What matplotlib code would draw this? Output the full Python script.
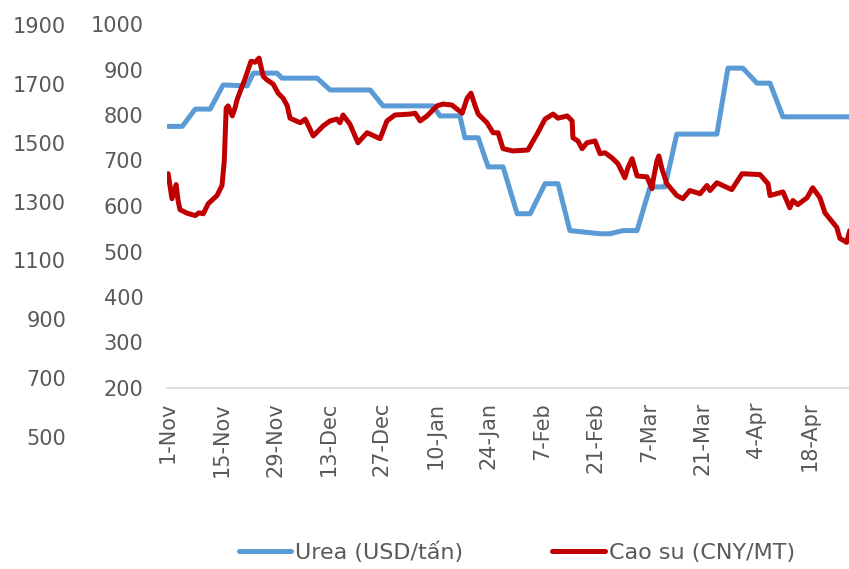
import matplotlib.pyplot as plt

# days counted from 1-Nov
tick_days = [0, 14, 28, 42, 56, 70, 84, 98, 112, 126, 140, 154, 168]
tick_labels = ['1-Nov', '15-Nov', '29-Nov', '13-Dec', '27-Dec', '10-Jan', '24-Jan',
               '7-Feb', '21-Feb', '7-Mar', '21-Mar', '4-Apr', '18-Apr']

urea_day = [0, 3.7, 7.1, 11.0, 14.4, 20.7, 22.3, 28.5, 29.8, 39.0, 42.4, 52.9, 56.3,
            69.4, 71.2, 76.4, 77.7, 81.2, 83.8, 87.7, 91.4, 94.8, 98.7, 102.1, 105.2,
            113.1, 115.7, 119.1, 122.8, 126.2, 130.1, 133.2, 143.7, 146.6, 150.5,
            154.2, 157.6, 161.0, 178.5]
urea_val = [775, 775, 813, 813, 866, 864, 892, 892, 881, 881, 855, 855, 820,
            820, 798, 798, 750, 750, 686, 686, 583, 583, 649, 649, 546,
            539, 539, 546, 546, 642, 642, 758, 758, 903, 903,
            870, 870, 796, 796]

rubber_day = [0, 1.0, 2.1, 2.6, 3.1, 5.0, 7.1, 8.1, 9.2, 10.5, 12.8, 14.1, 14.7, 15.2,
              15.7, 16.8, 17.5, 18.1, 20.2, 21.7, 22.8, 23.8, 24.9, 25.9, 27.5, 28.8,
              30.1, 31.2, 31.9, 34.6, 35.9, 38.0, 40.6, 42.4, 44.2, 45.0, 45.8, 47.6,
              49.7, 52.1, 55.5, 57.3, 59.4, 63.4, 64.7, 66.0, 67.8, 70.4, 72.0, 74.3,
              77.0, 78.3, 79.3, 80.4, 81.2, 83.5, 85.1, 86.4, 87.7, 90.3, 94.2, 96.6,
              98.7, 100.8, 102.1, 104.5, 105.8, 106.0, 107.3, 108.4, 109.7, 111.8,
              113.1, 114.4, 116.2, 117.8, 119.6, 120.4, 121.5, 122.8, 125.4, 126.7,
              127.0, 128.0, 128.5, 129.3, 130.6, 133.2, 134.8, 136.6, 139.3, 141.1,
              141.9, 143.7, 147.6, 150.3, 155.0, 157.1, 157.6, 161.0, 162.8, 163.6,
              164.9, 167.3, 168.8, 170.7, 172.0, 175.1, 175.9, 177.7, 178.5]
rubber_val = [671, 616, 647, 612, 592, 584, 579, 585, 583, 605, 623, 645, 699, 815,
              820, 798, 815, 835, 881, 918, 916, 925, 885, 877, 868, 848,
              837, 820, 793, 783, 791, 754, 776, 787, 791, 783, 800, 780,
              739, 761, 748, 787, 800, 802, 804, 787, 798, 820, 824, 822,
              804, 837, 848, 820, 802, 783, 761, 761, 726, 721, 723, 758,
              791, 802, 793, 798, 787, 750, 743, 726, 739, 743,
              715, 717, 706, 693, 662, 684, 704, 666, 664, 638,
              656, 699, 710, 682, 649, 623, 616, 634, 627, 645,
              634, 651, 636, 671, 669, 649, 623, 631, 596, 612,
              603, 618, 640, 618, 585, 553, 529, 520, 546]

txt = '#595959'
plt.rcParams['font.family'] = ['DejaVu Sans']

fig = plt.figure(figsize=(8.49, 5.69), dpi=100)
ax = fig.add_axes([167 / 849, 1 - 388 / 569, 1 - 167 / 849, (388 - 24) / 569])

ax.plot(urea_day, urea_val, color='#5B9BD5', lw=3.6, solid_capstyle='round',
        solid_joinstyle='round', label='Urea (USD/tấn)')
ax.plot(rubber_day, rubber_val, color='#C00000', lw=3.6, solid_capstyle='round',
        solid_joinstyle='round', label='Cao su (CNY/MT)')

ax.set_xlim(-0.3, 178.3)
ax.set_ylim(200, 1000)
ax.set_yticks(range(200, 1001, 100))
ax.set_xticks(tick_days)
ax.set_xticklabels(tick_labels, rotation=90)
for s in ['top', 'right', 'left']:
    ax.spines[s].set_visible(False)
ax.spines['bottom'].set_color('#D9D9D9')
ax.spines['bottom'].set_linewidth(1.2)
ax.tick_params(length=0, labelsize=15, labelcolor=txt)
ax.tick_params(axis='y', pad=17)
ax.tick_params(axis='x', pad=10)

# outer left scale
ax2 = fig.add_axes([66 / 849, 1 - 437 / 569, 0.01, (437 - 25) / 569])
ax2.set_ylim(500, 1900)
ax2.set_yticks(range(500, 1901, 200))
ax2.set_xticks([])
for s in ax2.spines.values():
    s.set_visible(False)
ax2.patch.set_visible(False)
ax2.tick_params(length=0, pad=0, labelsize=15, labelcolor=txt)

h, l = ax.get_legend_handles_labels()
fig.legend(h, l, loc='center', bbox_to_anchor=(517 / 849, 1 - 552 / 569), ncol=2,
           frameon=False, fontsize=16, handlelength=2.35, handletextpad=0.18,
           columnspacing=4.0, labelcolor=txt)

fig.savefig('out.png', dpi=100)
